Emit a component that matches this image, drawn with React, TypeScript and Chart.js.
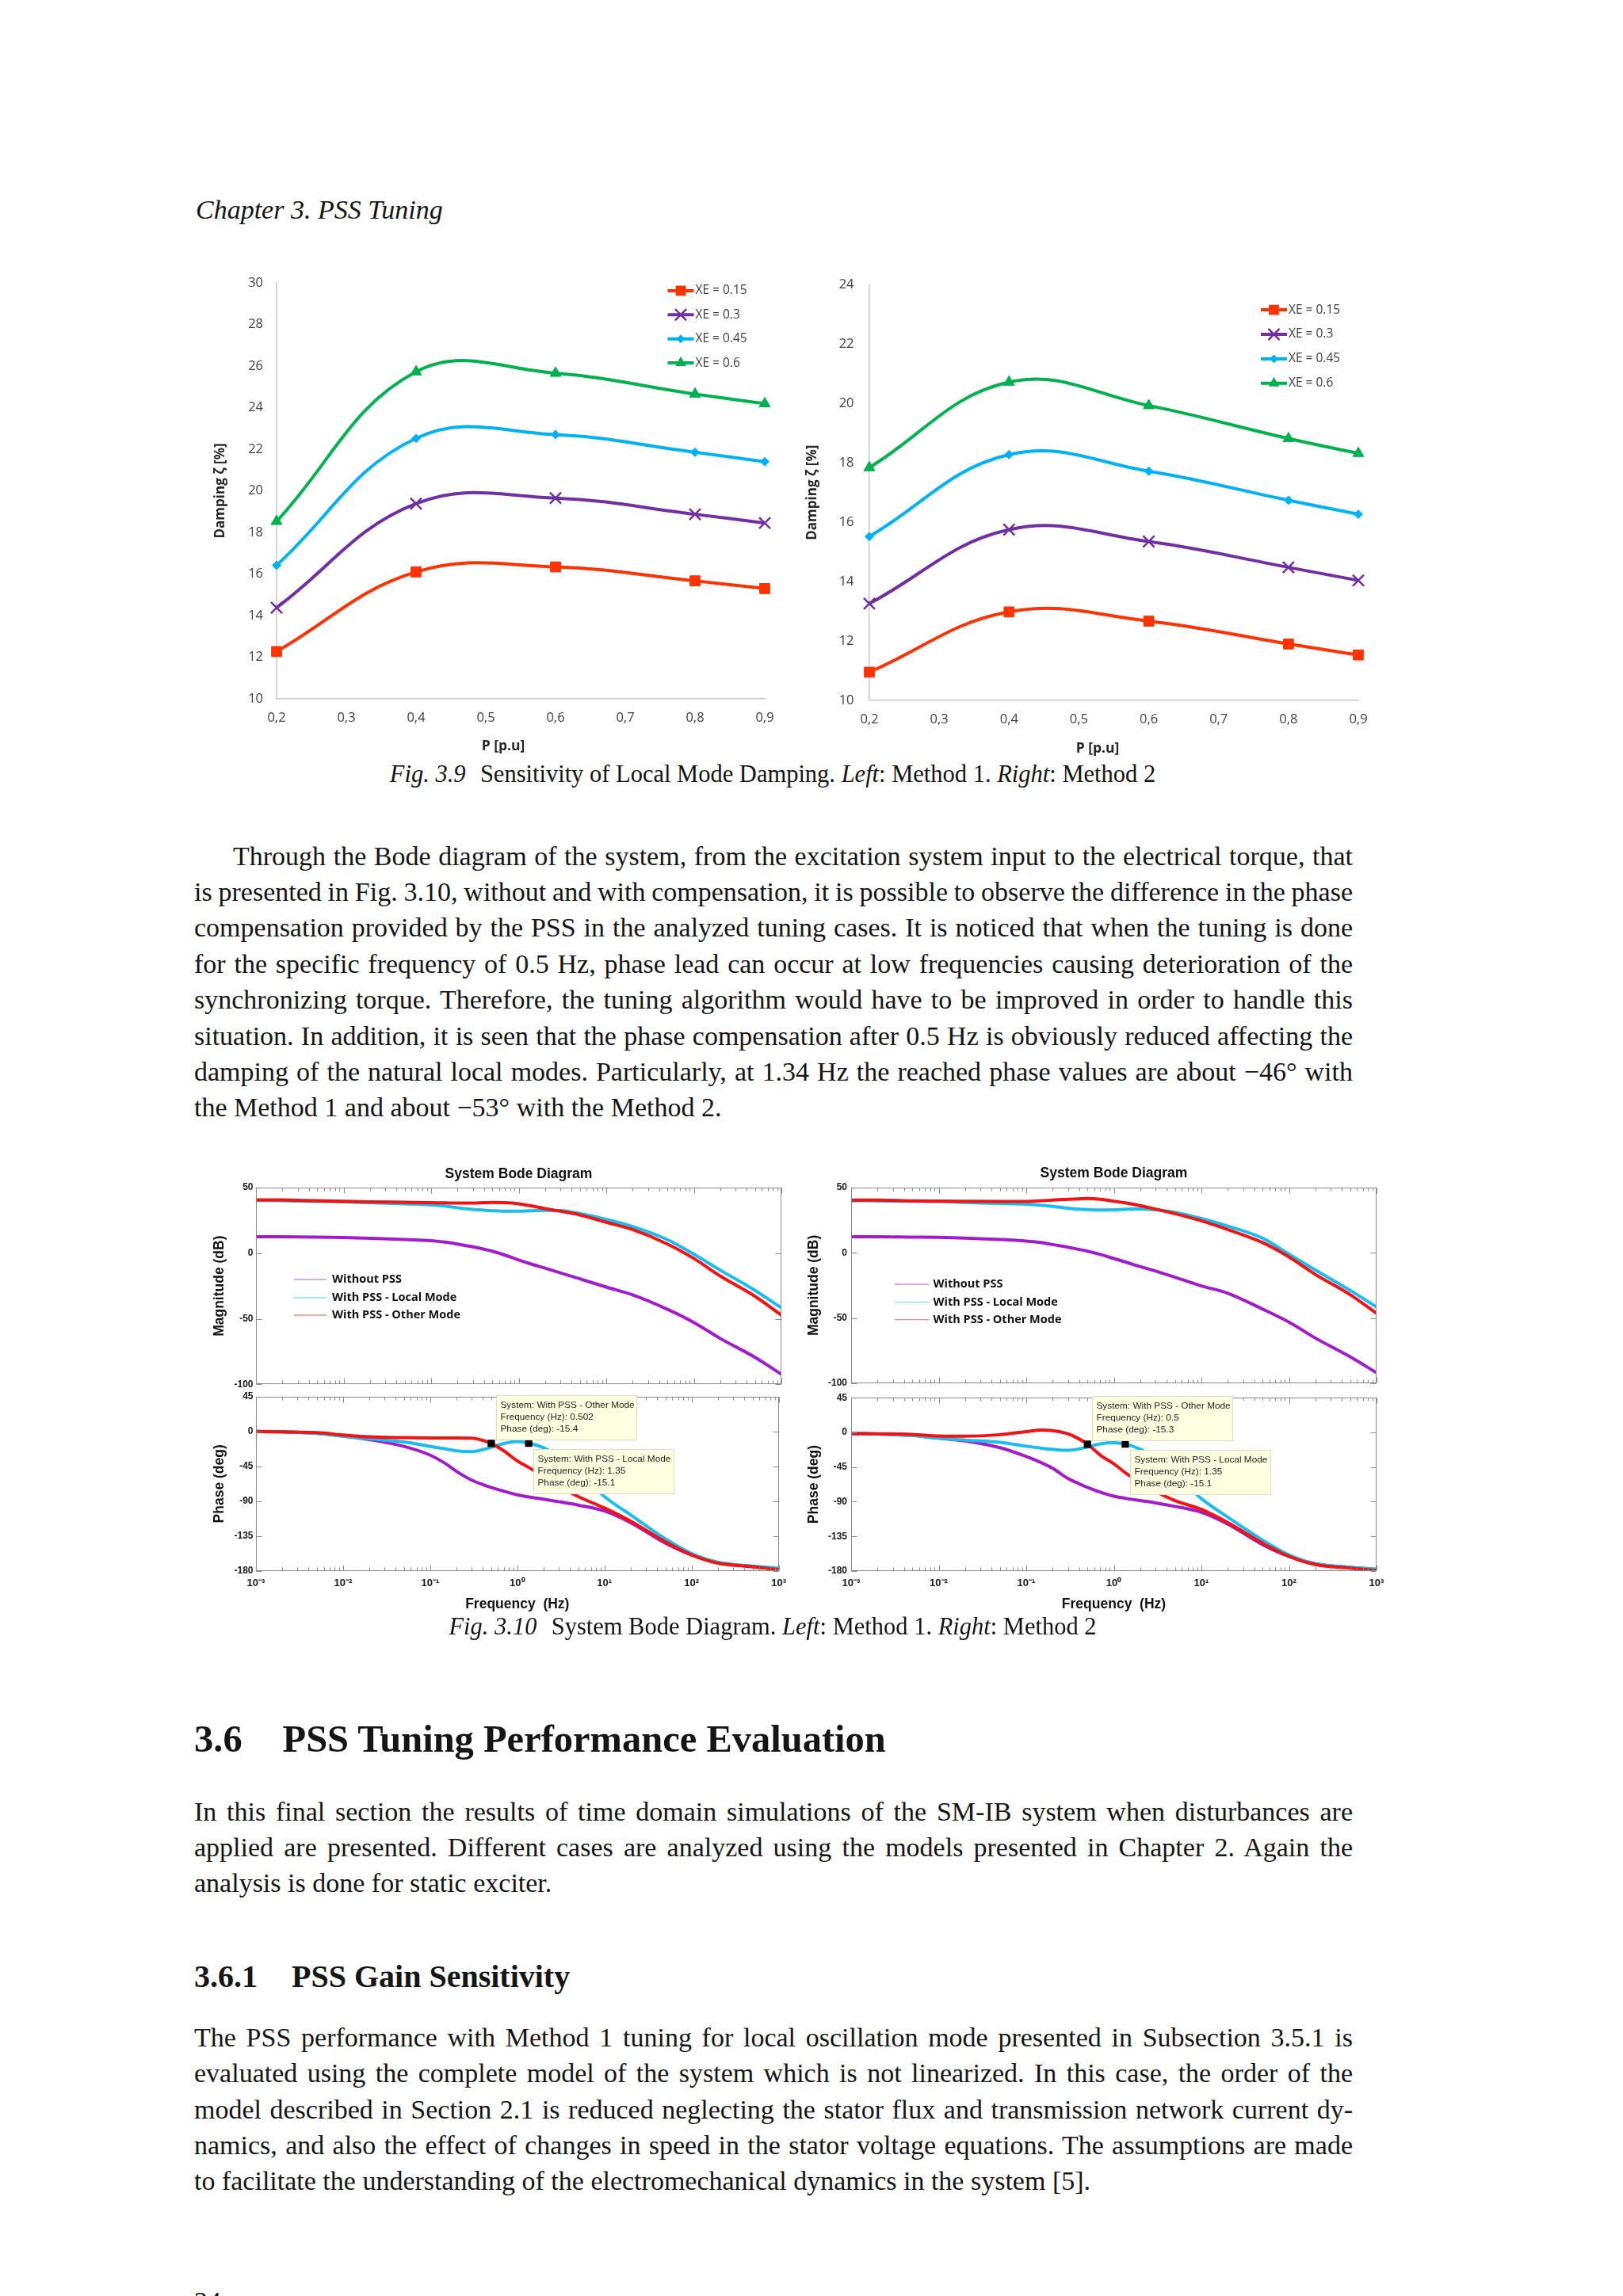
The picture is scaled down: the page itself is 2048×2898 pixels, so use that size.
import React, { useEffect, useLayoutEffect, useRef } from 'react';
import { Chart, registerables } from 'chart.js';

Chart.register(...registerables);

// ---------------- data: Fig. 3.9 (damping sensitivity) ----------------
const P_VALUES = [0.2, 0.4, 0.6, 0.8, 0.9];
const P_TICKS = [0.2, 0.3, 0.4, 0.5, 0.6, 0.7, 0.8, 0.9];
const XE_LABELS = ['XE = 0.15', 'XE = 0.3', 'XE = 0.45', 'XE = 0.6'];

const M1_XE015 = [12.27, 16.1, 16.34, 15.67, 15.3];
const M1_XE030 = [14.38, 19.38, 19.65, 18.87, 18.45];
const M1_XE045 = [16.42, 22.52, 22.7, 21.85, 21.4];
const M1_XE060 = [18.53, 25.72, 25.65, 24.65, 24.19];
const DAMP1_TICKS = [10, 12, 14, 16, 18, 20, 22, 24, 26, 28, 30];

const M2_XE015 = [10.95, 12.98, 12.67, 11.9, 11.53];
const M2_XE030 = [13.26, 15.75, 15.35, 14.48, 14.04];
const M2_XE045 = [15.52, 18.28, 17.72, 16.74, 16.27];
const M2_XE060 = [17.84, 20.72, 19.93, 18.82, 18.32];
const DAMP2_TICKS = [10, 12, 14, 16, 18, 20, 22, 24];

// ---------------- data: Fig. 3.10 (Bode diagrams) ----------------
const FREQ = [0.001, 0.002, 0.005, 0.01, 0.02, 0.05, 0.1, 0.15, 0.2, 0.3, 0.4, 0.5, 0.7, 1, 1.35, 2, 3, 5, 10, 20, 50, 100, 200, 500, 1000];
const BODE_LABELS = ['Without PSS', 'With PSS - Local Mode', 'With PSS - Other Mode'];

const MAG1_WITHOUT = [12.5, 12.5, 12.3, 12.0, 11.4, 10.5, 9.5, 8.3, 7.0, 4.8, 3.0, 1.5, -1.5, -5.2, -8.0, -11.4, -15.0, -19.6, -25.8, -31.8, -42.8, -52.8, -65.0, -79.4, -92.3];
const MAG1_LOCAL = [40.2, 40.0, 39.5, 39.1, 38.5, 37.6, 36.9, 35.8, 34.6, 33.4, 32.8, 32.4, 32.0, 32.0, 32.3, 32.7, 32.5, 30.3, 25.8, 20.3, 10.3, -0.7, -12.9, -28.4, -41.7];
const MAG1_OTHER = [40.7, 40.6, 40.0, 39.6, 39.2, 38.8, 38.5, 38.3, 38.2, 38.2, 38.5, 38.7, 38.5, 37.6, 36.2, 34.0, 32.0, 29.2, 23.6, 18.0, 7.0, -4.0, -17.4, -32.9, -47.3];

const PH1_WITHOUT = [0, -0.5, -2.3, -6.0, -10.5, -19.3, -30.6, -41.5, -51.4, -62.8, -68.5, -72.2, -77.0, -81.7, -84.5, -87.4, -90.5, -94.9, -102.5, -117.6, -144.0, -159.2, -168.7, -174.4, -177.4];
const PH1_LOCAL = [0, -0.5, -2.5, -6.0, -9.5, -13.6, -19.3, -22.5, -25.0, -26.0, -23.5, -20.5, -15.5, -13.0, -15.1, -21.0, -32.0, -52.0, -84.0, -107.6, -138.4, -157.3, -168.7, -173.6, -176.3];
const PH1_OTHER = [0, -0.5, -1.5, -4.5, -7.0, -8.0, -8.3, -8.3, -8.3, -8.7, -11.5, -15.4, -25.0, -38.0, -46.3, -58.4, -71.0, -84.0, -98.7, -115.7, -142.2, -159.2, -169.8, -174.4, -178.2];

const MAG2_WITHOUT = [12.3, 12.3, 12.0, 11.8, 11.3, 10.2, 9.0, 7.8, 6.3, 4.3, 2.6, 1.2, -1.3, -4.4, -7.0, -10.6, -14.0, -18.8, -25.4, -31.0, -43.2, -53.2, -65.4, -79.8, -92.0];
const MAG2_LOCAL = [40.0, 39.8, 39.6, 39.3, 38.6, 37.8, 37.2, 36.4, 35.6, 34.2, 33.5, 33.2, 32.8, 33.0, 33.4, 33.6, 33.0, 31.1, 26.3, 20.5, 11.2, -1.0, -13.2, -28.8, -41.6];
const MAG2_OTHER = [40.5, 40.5, 39.8, 39.6, 39.5, 39.4, 39.4, 39.9, 40.5, 41.0, 41.4, 41.6, 41.1, 39.6, 38.3, 36.2, 33.5, 30.0, 24.5, 17.8, 7.8, -3.2, -16.6, -32.1, -46.5];

const PH2_WITHOUT = [-1.5, -2.0, -4.0, -7.6, -11.0, -19.8, -31.3, -39.5, -46.5, -59.9, -66.5, -71.3, -77.5, -82.8, -85.5, -88.5, -91.5, -96.1, -103.7, -119.0, -145.7, -160.9, -170.5, -175.4, -178.1];
const PH2_LOCAL = [-1.5, -2.0, -4.0, -7.6, -10.0, -13.0, -17.9, -20.5, -22.0, -23.3, -21.5, -19.0, -15.0, -13.5, -15.1, -21.7, -33.0, -55.0, -86.0, -110.0, -139.9, -159.0, -170.5, -175.0, -177.3];
const PH2_OTHER = [-1.5, -1.8, -2.5, -4.6, -5.0, -3.0, 1.0, 3.0, 2.3, -1.9, -8.4, -15.3, -29.4, -40.8, -52.3, -65.0, -77.0, -88.5, -100.0, -117.1, -143.8, -160.9, -171.6, -176.2, -179.2];

const MAG_TICKS = [50, 0, -50, -100];
const PHASE_TICKS = [45, 0, -45, -90, -135, -180];
const FREQ_DECADES = [0.001, 0.01, 0.1, 1, 10, 100, 1000];
const FREQ_TICK_LABELS = ['10\u207B\u00B3', '10\u207B\u00B2', '10\u207B\u00B9', '10\u2070', '10\u00B9', '10\u00B2', '10\u00B3'];

const TIP_SERIES = ['With PSS - Other Mode', 'With PSS - Local Mode'];
const TIP1_FREQ = [0.502, 1.35];
const TIP1_PHASE = [-15.4, -15.1];
const TIP2_FREQ = [0.5, 1.35];
const TIP2_PHASE = [-15.3, -15.1];

// ---------------- text ----------------
const P1_LINES = [
  'Through the Bode diagram of the system, from the excitation system input to the electrical torque, that',
  'is presented in Fig. 3.10, without and with compensation, it is possible to observe the difference in the phase',
  'compensation provided by the PSS in the analyzed tuning cases. It is noticed that when the tuning is done',
  'for the specific frequency of 0.5 Hz, phase lead can occur at low frequencies causing deterioration of the',
  'synchronizing torque. Therefore, the tuning algorithm would have to be improved in order to handle this',
  'situation. In addition, it is seen that the phase compensation after 0.5 Hz is obviously reduced affecting the',
  'damping of the natural local modes. Particularly, at 1.34 Hz the reached phase values are about \u221246\u00B0 with',
  'the Method 1 and about \u221253\u00B0 with the Method 2.',
];
const P2_LINES = [
  'In this final section the results of time domain simulations of the SM-IB system when disturbances are',
  'applied are presented. Different cases are analyzed using the models presented in Chapter 2. Again the',
  'analysis is done for static exciter.',
];
const P3_LINES = [
  'The PSS performance with Method 1 tuning for local oscillation mode presented in Subsection 3.5.1 is',
  'evaluated using the complete model of the system which is not linearized. In this case, the order of the',
  'model described in Section 2.1 is reduced neglecting the stator flux and transmission network current dy-',
  'namics, and also the effect of changes in speed in the stator voltage equations. The assumptions are made',
  'to facilitate the understanding of the electromechanical dynamics in the system [5].',
];

// ---------------- styles ----------------
const SERIF = '"Liberation Serif", "Times New Roman", serif';
const SANS = '"Liberation Sans", Arial, sans-serif';
const XLS = '"Open Sans", "Noto Sans", sans-serif';
const XE_STYLES = [
  { color: '#FF3300', pointStyle: 'rect', radius: 9, bw: 1 },
  { color: '#7030A0', pointStyle: 'crossRot', radius: 10, bw: 2.5 },
  { color: '#00B0F0', pointStyle: 'rectRot', radius: 5.5, bw: 1 },
  { color: '#00B050', pointStyle: 'triangle', radius: 8, bw: 1 },
];
const BODE_COLORS = ['#A01EC8', '#1EBBEE', '#F01414'];

const toPts = (xs: number[], ys: number[]) => xs.map((x, i) => ({ x, y: ys[i] }));

function drawMarker(ctx: CanvasRenderingContext2D, style: string, x: number, y: number, r: number, color: string, bw: number) {
  ctx.save();
  ctx.fillStyle = color;
  ctx.strokeStyle = color;
  ctx.lineWidth = bw;
  ctx.beginPath();
  if (style === 'rect') {
    const h = r * Math.SQRT1_2;
    ctx.rect(x - h, y - h, 2 * h, 2 * h);
    ctx.fill();
  } else if (style === 'crossRot') {
    const h = r * Math.SQRT1_2;
    ctx.moveTo(x - h, y - h); ctx.lineTo(x + h, y + h);
    ctx.moveTo(x - h, y + h); ctx.lineTo(x + h, y - h);
    ctx.stroke();
  } else if (style === 'rectRot') {
    ctx.moveTo(x, y - r); ctx.lineTo(x + r, y); ctx.lineTo(x, y + r); ctx.lineTo(x - r, y);
    ctx.closePath(); ctx.fill();
  } else {
    ctx.moveTo(x, y - r);
    ctx.lineTo(x + r * 0.866, y + r * 0.5);
    ctx.lineTo(x - r * 0.866, y + r * 0.5);
    ctx.closePath(); ctx.fill();
  }
  ctx.restore();
}

const excelLegend = (cfg: { dxFromRight: number; dyFromTop: number; gap: number }) => ({
  id: 'excelLegend',
  afterDraw(chart: any) {
    const { ctx, chartArea: a } = chart;
    chart.data.datasets.forEach((ds: any, i: number) => {
      const x0 = a.right - cfg.dxFromRight;
      const y = a.top + cfg.dyFromTop + i * cfg.gap;
      ctx.save();
      ctx.strokeStyle = ds.borderColor;
      ctx.lineWidth = 4;
      ctx.beginPath(); ctx.moveTo(x0, y); ctx.lineTo(x0 + 33, y); ctx.stroke();
      drawMarker(ctx, ds.pointStyle, x0 + 16.5, y, ds.pointRadius, ds.borderColor, ds.pointBorderWidth);
      ctx.fillStyle = '#404040';
      ctx.font = `15.5px ${XLS}`;
      ctx.textBaseline = 'middle';
      ctx.textAlign = 'left';
      ctx.fillText(ds.label, x0 + 35, y);
      ctx.restore();
    });
  },
});

const excelXTitle = (text: string, dx: number, y: number) => ({
  id: 'excelXTitle',
  afterDraw(chart: any) {
    const { ctx, chartArea: a } = chart;
    ctx.save();
    ctx.fillStyle = '#262626';
    ctx.font = `bold 17.5px ${XLS}`;
    ctx.textAlign = 'center';
    ctx.textBaseline = 'middle';
    ctx.fillText(text, (a.left + a.right) / 2 + dx, y);
    ctx.restore();
  },
});

const bodeFrame = {
  id: 'bodeFrame',
  afterDatasetsDraw(chart: any) {
    const { ctx, chartArea: a, scales } = chart;
    const xs = scales.x, ys = scales.y;
    const L = Math.round(a.left) + 0.5, R = Math.round(a.right) - 0.5;
    const T = Math.round(a.top) + 0.5, B = Math.round(a.bottom) - 0.5;
    ctx.save();
    ctx.strokeStyle = '#8a8a8a';
    ctx.lineWidth = 1;
    ctx.strokeRect(L, T, R - L, B - T);
    ctx.beginPath();
    FREQ_DECADES.forEach((d, di) => {
      const mults = di === FREQ_DECADES.length - 1 ? [1] : [1, 2, 3, 4, 5, 6, 7, 8, 9];
      mults.forEach((m) => {
        const px = Math.round(xs.getPixelForValue(d * m)) + 0.5;
        const len = m === 1 ? 7 : 4;
        ctx.moveTo(px, T); ctx.lineTo(px, T + len);
        ctx.moveTo(px, B); ctx.lineTo(px, B - len);
      });
    });
    ys.ticks.forEach((t: any) => {
      const py = Math.round(ys.getPixelForValue(t.value)) + 0.5;
      ctx.moveTo(L, py); ctx.lineTo(L + 7, py);
      ctx.moveTo(R, py); ctx.lineTo(R - 7, py);
    });
    ctx.stroke();
    ctx.restore();
  },
};

const bodeLegend = (cfg: { x0: number; x1: number; tx: number; rows: number[] }) => ({
  id: 'bodeLegend',
  afterDatasetsDraw(chart: any) {
    const { ctx, chartArea: a } = chart;
    ctx.save();
    chart.data.datasets.slice(0, 3).forEach((ds: any, i: number) => {
      const y = a.top + cfg.rows[i];
      ctx.globalAlpha = 0.5;
      ctx.strokeStyle = ds.borderColor;
      ctx.lineWidth = 1.3;
      ctx.beginPath(); ctx.moveTo(a.left + cfg.x0, y); ctx.lineTo(a.left + cfg.x1, y); ctx.stroke();
      ctx.globalAlpha = 1;
      ctx.fillStyle = '#111';
      ctx.font = `bold 14.5px ${XLS}`;
      ctx.textAlign = 'left';
      ctx.textBaseline = 'middle';
      ctx.fillText(ds.label, a.left + cfg.tx, y);
    });
    ctx.restore();
  },
});

const dataTips = (freqs: number[], phases: number[]) => ({
  id: 'dataTips',
  afterDatasetsDraw(chart: any) {
    const { ctx, scales } = chart;
    freqs.forEach((f, i) => {
      const mx = scales.x.getPixelForValue(f);
      const my = scales.y.getPixelForValue(phases[i]);
      const w = 177, h = 56;
      const bx = Math.round(mx + 6) + 0.5;
      const by = Math.round(i === 0 ? my - 5 - h : my + 7) + 0.5;
      ctx.save();
      ctx.fillStyle = '#FFFFE1';
      ctx.fillRect(bx, by, w, h);
      ctx.strokeStyle = '#dcdcc8';
      ctx.lineWidth = 1;
      ctx.strokeRect(bx, by, w, h);
      const lines = [`System: ${TIP_SERIES[i]}`, `Frequency (Hz): ${f}`, `Phase (deg): ${phases[i]}`];
      ctx.fillStyle = '#222';
      ctx.font = `11.8px ${SANS}`;
      ctx.textAlign = 'left';
      ctx.textBaseline = 'middle';
      lines.forEach((t, k) => ctx.fillText(t, bx + 5, by + 12.7 + 15 * k));
      ctx.restore();
    });
  },
});

type DampLayout = {
  padTop: number; padRight: number; yWidth: number; xHeight: number;
  yTickPad: number; yTitlePad: number; xTitleDx: number; xTitleY: number;
  legend: { dxFromRight: number; dyFromTop: number; gap: number };
};

function dampingConfig(series: number[][], yTicks: number[], lay: DampLayout): any {
  const tickFont = { family: XLS, size: 16.5 };
  const border = { display: true, color: '#c8c8c8', width: 1.5 };
  return {
    type: 'line',
    data: {
      datasets: series.map((ys, i) => ({
        label: XE_LABELS[i],
        data: toPts(P_VALUES, ys),
        borderColor: XE_STYLES[i].color,
        backgroundColor: XE_STYLES[i].color,
        borderWidth: 4,
        tension: 0.4,
        pointStyle: XE_STYLES[i].pointStyle,
        pointRadius: XE_STYLES[i].radius,
        pointBorderWidth: XE_STYLES[i].bw,
        pointBackgroundColor: XE_STYLES[i].color,
        pointBorderColor: XE_STYLES[i].color,
        clip: false,
      })),
    },
    options: {
      responsive: false,
      maintainAspectRatio: false,
      animation: false,
      devicePixelRatio: 1,
      layout: { padding: { top: lay.padTop, right: lay.padRight, left: 0, bottom: 0 } },
      plugins: { legend: { display: false }, tooltip: { enabled: false } },
      scales: {
        x: {
          type: 'linear',
          min: P_TICKS[0],
          max: P_TICKS[P_TICKS.length - 1],
          grid: { display: false, drawTicks: false },
          border,
          afterBuildTicks: (s: any) => { s.ticks = P_TICKS.map((v) => ({ value: v })); },
          afterFit: (s: any) => { s.height = lay.xHeight; },
          ticks: {
            padding: 14.5, color: '#404040', font: tickFont, maxRotation: 0, autoSkip: false,
            callback: (v: any) => Number(v).toFixed(1).replace('.', ','),
          },
        },
        y: {
          type: 'linear',
          min: yTicks[0],
          max: yTicks[yTicks.length - 1],
          grid: { display: false, drawTicks: false },
          border,
          afterBuildTicks: (s: any) => { s.ticks = yTicks.map((v) => ({ value: v })); },
          afterFit: (s: any) => { s.width = lay.yWidth; },
          ticks: { padding: lay.yTickPad, color: '#404040', font: tickFont, autoSkip: false },
          title: {
            display: true, text: 'Damping \u03B6 [%]', color: '#262626',
            font: { family: XLS, size: 17, weight: 'bold' },
            padding: { top: lay.yTitlePad, bottom: 0 },
          },
        },
      },
    },
    plugins: [excelLegend(lay.legend), excelXTitle('P [p.u]', lay.xTitleDx, lay.xTitleY)],
  };
}

const bodeLine = (i: number, ys: number[]) => ({
  label: BODE_LABELS[i],
  data: toPts(FREQ, ys),
  borderColor: BODE_COLORS[i],
  backgroundColor: BODE_COLORS[i],
  borderWidth: 4,
  pointRadius: 0,
  tension: 0.4,
  cubicInterpolationMode: 'monotone',
  borderCapStyle: 'round',
  order: 3 - i,
});

const bodeTickFont = { family: SANS, size: 12, weight: 'bold' };
const bodeTitleFont = { family: SANS, size: 17.5, weight: 'bold' };

type BodeLayout = {
  padRight: number; yWidth: number; yTickPad: number; yTitlePad: number;
  titlePadTop: number; titlePadBottom: number;
  legend: { x0: number; x1: number; tx: number; rows: number[] };
};

function bodeMagConfig(series: number[][], lay: BodeLayout): any {
  return {
    type: 'line',
    data: { datasets: series.map((ys, i) => bodeLine(i, ys)) },
    options: {
      responsive: false, maintainAspectRatio: false, animation: false, devicePixelRatio: 1,
      layout: { padding: { top: 0, right: lay.padRight, bottom: 9, left: 0 } },
      plugins: {
        legend: { display: false }, tooltip: { enabled: false },
        title: {
          display: true, text: 'System Bode Diagram', fullSize: false, color: '#111',
          font: bodeTitleFont, padding: { top: lay.titlePadTop, bottom: lay.titlePadBottom },
        },
      },
      scales: {
        x: { type: 'logarithmic', min: FREQ_DECADES[0], max: FREQ_DECADES[FREQ_DECADES.length - 1], display: false },
        y: {
          type: 'linear', min: MAG_TICKS[MAG_TICKS.length - 1], max: MAG_TICKS[0],
          grid: { display: false, drawTicks: false },
          border: { display: false },
          afterBuildTicks: (s: any) => { s.ticks = MAG_TICKS.map((v) => ({ value: v })); },
          afterFit: (s: any) => { s.width = lay.yWidth; },
          ticks: { padding: lay.yTickPad, color: '#1a1a1a', font: bodeTickFont, autoSkip: false },
          title: { display: true, text: 'Magnitude (dB)', color: '#111', font: bodeTitleFont, padding: { top: lay.yTitlePad, bottom: 0 } },
        },
      },
    },
    plugins: [bodeFrame, bodeLegend(lay.legend)],
  };
}

function bodePhaseConfig(series: number[][], tipF: number[], tipP: number[], lay: BodeLayout): any {
  return {
    type: 'line',
    data: {
      datasets: [
        ...series.map((ys, i) => bodeLine(i, ys)),
        {
          label: 'Data tips',
          data: toPts(tipF, tipP),
          showLine: false,
          pointStyle: 'rect',
          pointRadius: 6.5,
          pointBackgroundColor: '#000',
          pointBorderColor: '#000',
          pointBorderWidth: 0,
          borderWidth: 0,
          order: 0,
        },
      ],
    },
    options: {
      responsive: false, maintainAspectRatio: false, animation: false, devicePixelRatio: 1,
      layout: { padding: { top: 10, right: lay.padRight, bottom: 0, left: 0 } },
      plugins: { legend: { display: false }, tooltip: { enabled: false } },
      scales: {
        x: {
          type: 'logarithmic', min: FREQ_DECADES[0], max: FREQ_DECADES[FREQ_DECADES.length - 1],
          grid: { display: false, drawTicks: false },
          border: { display: false },
          afterBuildTicks: (s: any) => { s.ticks = FREQ_DECADES.map((v) => ({ value: v })); },
          afterFit: (s: any) => { s.height = 61; },
          ticks: {
            padding: 8, color: '#1a1a1a', font: { family: SANS, size: 13, weight: 'bold' }, autoSkip: false, maxRotation: 0,
            callback: (_v: any, idx: number) => FREQ_TICK_LABELS[idx],
          },
          title: { display: true, text: 'Frequency  (Hz)', color: '#111', font: bodeTitleFont, padding: { top: 0, bottom: 8.7 } },
        },
        y: {
          type: 'linear', min: PHASE_TICKS[PHASE_TICKS.length - 1], max: PHASE_TICKS[0],
          grid: { display: false, drawTicks: false },
          border: { display: false },
          afterBuildTicks: (s: any) => { s.ticks = PHASE_TICKS.map((v) => ({ value: v })); },
          afterFit: (s: any) => { s.width = lay.yWidth; },
          ticks: { padding: lay.yTickPad, color: '#1a1a1a', font: bodeTickFont, autoSkip: false },
          title: { display: true, text: 'Phase (deg)', color: '#111', font: bodeTitleFont, padding: { top: lay.yTitlePad, bottom: 0 } },
        },
      },
    },
    plugins: [bodeFrame, dataTips(tipF, tipP)],
  };
}

// ---------------- layouts ----------------
const DAMP1_LAYOUT: DampLayout = {
  padTop: 25, padRight: 35, yWidth: 109, xHeight: 78, yTickPad: 17, yTitlePad: 27.5,
  xTitleDx: -22, xTitleY: 612.4, legend: { dxFromRight: 122.5, dyFromTop: 10, gap: 30.4 },
};
const DAMP2_LAYOUT: DampLayout = {
  padTop: 26, padRight: 46, yWidth: 97, xHeight: 76, yTickPad: 19.5, yTitlePad: 14.8,
  xTitleDx: -20.5, xTitleY: 615, legend: { dxFromRight: 123, dyFromTop: 31.7, gap: 30.9 },
};
const BODE1_LAYOUT: BodeLayout = {
  padRight: 14, yWidth: 83, yTickPad: 3.5, yTitlePad: 27, titlePadTop: 9.5, titlePadBottom: 6.5,
  legend: { x0: 48, x1: 89.5, tx: 96, rows: [116, 139, 161] },
};
const BODE2_LAYOUT: BodeLayout = {
  padRight: 23, yWidth: 74, yTickPad: 5, yTitlePad: 17, titlePadTop: 9, titlePadBottom: 7,
  legend: { x0: 55, x1: 98.5, tx: 103.5, rows: [122, 144.7, 166.6] },
};

// ---------------- components ----------------
function ChartBox({ left, top, width, height, make }: { left: number; top: number; width: number; height: number; make: () => any }) {
  const ref = useRef<HTMLCanvasElement>(null);
  useEffect(() => {
    const chart = new Chart(ref.current as HTMLCanvasElement, make());
    const fonts = (document as any).fonts;
    if (fonts && fonts.ready) fonts.ready.then(() => { try { chart.update('none'); } catch (e) { /* destroyed */ } });
    return () => chart.destroy();
  }, []);
  return (
    <canvas
      ref={ref}
      width={width}
      height={height}
      style={{ position: 'absolute', left, top, width, height, display: 'block' }}
    />
  );
}

function TextLine({ text, left, baseline, size, width, justify, weight, italic }: {
  text: string; left: number; baseline: number; size: number; width?: number; justify?: boolean; weight?: string; italic?: boolean;
}) {
  const ref = useRef<HTMLSpanElement>(null);
  useLayoutEffect(() => {
    if (!justify || !width) return;
    const fit = () => {
      const el = ref.current;
      if (!el) return;
      el.style.wordSpacing = '0px';
      const w = el.getBoundingClientRect().width;
      const n = text.split(' ').length - 1;
      if (n > 0) el.style.wordSpacing = `${(width - w) / n}px`;
    };
    fit();
    const fonts = (document as any).fonts;
    if (fonts && fonts.ready) fonts.ready.then(fit);
  }, [text, width, justify]);
  return (
    <div
      style={{
        position: 'absolute', left, top: baseline - 0.8375 * size, fontSize: size, lineHeight: `${size}px`,
        whiteSpace: 'pre', fontFamily: SERIF, fontWeight: weight || 'normal', fontStyle: italic ? 'italic' : 'normal', color: '#151515',
      }}
    >
      <span ref={ref}>{text}</span>
    </div>
  );
}

function Paragraph({ lines, baselines, indent }: { lines: string[]; baselines: number[]; indent: number }) {
  const LEFT = 245, RIGHT = 1707, SIZE = 34;
  return (
    <>
      {lines.map((t, i) => {
        const l = LEFT + (i === 0 ? indent : 0);
        return (
          <TextLine key={i} text={t} left={l} baseline={baselines[i]} size={SIZE} width={RIGHT - l} justify={i < lines.length - 1} />
        );
      })}
    </>
  );
}

function Caption({ num, text, baseline }: { num: string; text: string; baseline: number }) {
  const size = 30.5;
  return (
    <div
      style={{
        position: 'absolute', left: 0, width: 1950, top: baseline - 0.8375 * size, fontSize: size, lineHeight: `${size}px`,
        textAlign: 'center', whiteSpace: 'pre', fontFamily: SERIF, color: '#151515',
      }}
    >
      <i>Fig. {num}</i>
      <span style={{ display: 'inline-block', width: '0.6em' }} />
      {text}
      <i>Left</i>: Method 1. <i>Right</i>: Method 2
    </div>
  );
}

export default function App() {
  const P1_BASE = [1092, 1137.4, 1182.8, 1228.2, 1273.6, 1319, 1364.4, 1409.8];
  const P2_BASE = [2298.3, 2343.5, 2388.7];
  const P3_BASE = [2583.3, 2628.7, 2674.1, 2719.5, 2764.9];
  return (
    <div style={{ position: 'absolute', left: 0, top: 0, width: 2048, height: 2898, overflow: 'hidden', background: '#fff' }}>
      <TextLine text="Chapter 3. PSS Tuning" left={247} baseline={276.7} size={34} italic />

      <ChartBox left={240} top={330} width={760} height={630}
        make={() => dampingConfig([M1_XE015, M1_XE030, M1_XE045, M1_XE060], DAMP1_TICKS, DAMP1_LAYOUT)} />
      <ChartBox left={1000} top={330} width={760} height={630}
        make={() => dampingConfig([M2_XE015, M2_XE030, M2_XE045, M2_XE060], DAMP2_TICKS, DAMP2_LAYOUT)} />

      <Caption num="3.9" text="Sensitivity of Local Mode Damping. " baseline={987.3} />

      <Paragraph lines={P1_LINES} baselines={P1_BASE} indent={49} />

      <ChartBox left={240} top={1462} width={760} height={296}
        make={() => bodeMagConfig([MAG1_WITHOUT, MAG1_LOCAL, MAG1_OTHER], BODE1_LAYOUT)} />
      <ChartBox left={240} top={1752} width={760} height={292}
        make={() => bodePhaseConfig([PH1_WITHOUT, PH1_LOCAL, PH1_OTHER], TIP1_FREQ, TIP1_PHASE, BODE1_LAYOUT)} />
      <ChartBox left={1000} top={1462} width={760} height={296}
        make={() => bodeMagConfig([MAG2_WITHOUT, MAG2_LOCAL, MAG2_OTHER], BODE2_LAYOUT)} />
      <ChartBox left={1000} top={1752} width={760} height={292}
        make={() => bodePhaseConfig([PH2_WITHOUT, PH2_LOCAL, PH2_OTHER], TIP2_FREQ, TIP2_PHASE, BODE2_LAYOUT)} />

      <Caption num="3.10" text="System Bode Diagram. " baseline={2063.3} />

      <TextLine text="3.6" left={245} baseline={2211.7} size={48.5} weight="bold" />
      <TextLine text="PSS Tuning Performance Evaluation" left={356.5} baseline={2211.7} size={48.5} weight="bold" />
      <Paragraph lines={P2_LINES} baselines={P2_BASE} indent={0} />

      <TextLine text="3.6.1" left={245} baseline={2508.3} size={40} weight="bold" />
      <TextLine text="PSS Gain Sensitivity" left={368} baseline={2508.3} size={40} weight="bold" />
      <Paragraph lines={P3_LINES} baselines={P3_BASE} indent={0} />

      <TextLine text="24" left={245} baseline={2916} size={34} />
    </div>
  );
}
